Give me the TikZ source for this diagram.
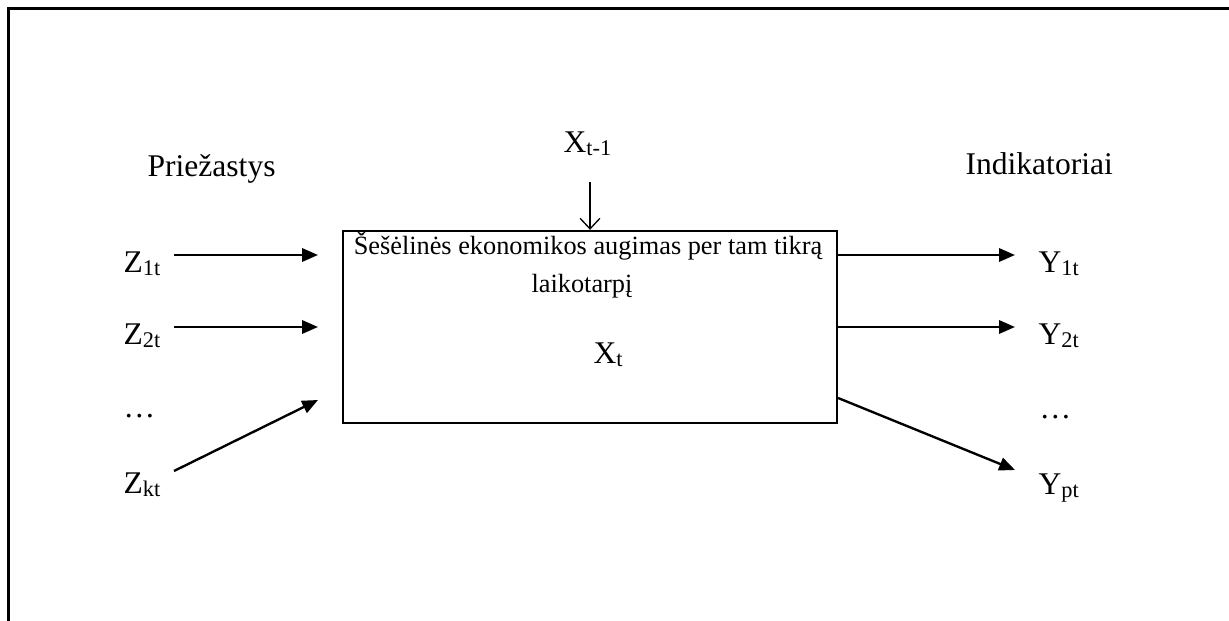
\documentclass[tikz,border=0pt]{standalone}
\usepackage{fontspec}
\setmainfont{Liberation Serif}
\usetikzlibrary{arrows.meta}
\newcommand\sbx[1]{\raisebox{-1.3pt}{\fontsize{8.5}{9}\selectfont #1}}
\begin{document}
\begin{tikzpicture}[x=0.38pt,y=-0.38pt,
  lbl/.style={inner sep=0pt,anchor=base west,font=\fontsize{12}{14}\selectfont},
  boxtxt/.style={inner sep=0pt,anchor=base,font=\fontsize{10}{12}\selectfont},
  arr/.style={line width=0.9pt,-{Triangle[length=6pt,width=5pt]}},
  thinarr/.style={line width=0.5pt,-{Straight Barb[length=4pt,width=7.5pt]}},
  frame/.style={line width=0.85pt}]
\useasboundingbox (0,0) rectangle (1229,621);
% frame
\draw[frame] (8.5,621) -- (8.5,8.5) -- (1229,8.5);
% central box
\node[draw,line width=0.85pt,minimum width=187.7pt,minimum height=73pt,inner sep=0pt] (box) at (590,327) {};
\node[boxtxt] (t1) at (588,254) {Šešėlinės ekonomikos augimas per tam tikrą};
\node[boxtxt] (t2) at (582,292) {laikotarpį};
\node[lbl] (xt) at (593,363) {X\sbx{t}};
% headings
\node[lbl] (pr) at (147,176) {Priežastys};
\node[lbl] (ind) at (965,175) {Indikatoriai};
\node[lbl] (xtm) at (563,152) {X\sbx{t-1}};
% left labels
\node[lbl] (z1) at (123,272) {Z\sbx{1t}};
\node[lbl] (z2) at (123,344) {Z\sbx{2t}};
\node[lbl] (zd) at (123,417) {\dots};
\node[lbl] (zk) at (123,493) {Z\sbx{kt}};
% right labels
\node[lbl] (y1) at (1038,272) {Y\sbx{1t}};
\node[lbl] (y2) at (1038,344) {Y\sbx{2t}};
\node[lbl] (yd) at (1039,418) {\dots};
\node[lbl] (yp) at (1038,494) {Y\sbx{pt}};
% arrow end points
\coordinate (z1a) at (174,255); \coordinate (z1b) at (318,255);
\coordinate (z2a) at (174,327); \coordinate (z2b) at (318,327);
\coordinate (zka) at (174,471); \coordinate (zkb) at (318,400);
\coordinate (y1s) at (837,255); \coordinate (y1a) at (1015,255);
\coordinate (y2s) at (837,327); \coordinate (y2a) at (1015,327);
\coordinate (yps) at (837,398); \coordinate (ypa) at (1015,470);
\coordinate (xa) at (590,182);
% connectors
\draw[arr] (z1a) -- (z1b);
\draw[arr] (z2a) -- (z2b);
\draw[arr] (zka) -- (zkb);
\draw[arr] (box.east |- y1s) -- (y1a);
\draw[arr] (box.east |- y2s) -- (y2a);
\draw[arr] (box.east |- yps) -- (ypa);
\draw[thinarr] (xa) -- (box.north);
\end{tikzpicture}
\end{document}
